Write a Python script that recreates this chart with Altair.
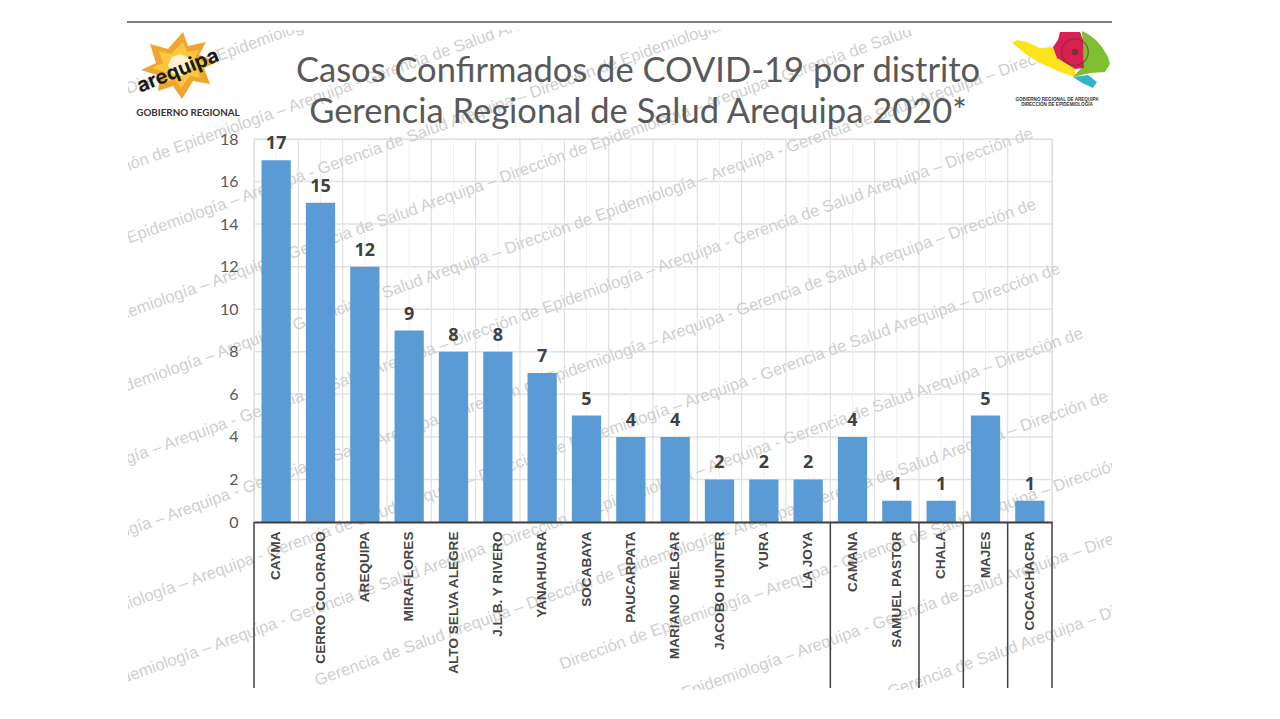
import altair as alt
import pandas as pd

distritos = ["CAYMA", "CERRO COLORADO", "AREQUIPA", "MIRAFLORES", "ALTO SELVA ALEGRE", "J.L.B. Y RIVERO",
             "YANAHUARA", "SOCABAYA", "PAUCARPATA", "MARIANO MELGAR", "JACOBO HUNTER", "YURA", "LA JOYA",
             "CAMANA", "SAMUEL PASTOR", "CHALA", "MAJES", "COCACHACRA"]
casos = [17, 15, 12, 9, 8, 8, 7, 5, 4, 4, 2, 2, 2, 4, 1, 1, 5, 1]
grupos_inicio = ["CAYMA", "CAMANA", "CHALA", "MAJES", "COCACHACRA"]
ticks_y = [0, 2, 4, 6, 8, 10, 12, 14, 16, 18]
titulo = ["Casos Confirmados de COVID-19 por distrito", "Gerencia Regional de Salud Arequipa 2020*"]

DIR = "Dirección de "
EPI = "Epidemiología – Arequipa - "
GER = "Gerencia de Salud Arequipa – "
FIN = "Dirección de"
# marca de agua: (intercepto de la línea, inicio en x, texto)
marcas = [
    (140, 128, DIR + "Epidemiología"),
    (217, 85, DIR + EPI + "Gerencia de Salud Arequipa"),
    (290, 129, EPI + GER + DIR + "Epidemiología"),
    (364, 99, EPI + GER + DIR + EPI + "Gerencia de Salud"),
    (437, 104, EPI + GER + DIR + EPI + GER + FIN),
    (510, 51, EPI + GER + DIR + EPI + GER + FIN),
    (582, 54, EPI + GER + DIR + EPI + GER + FIN),
    (655, 78, EPI + GER + DIR + EPI + GER + FIN),
    (728, 101, EPI + GER + DIR + EPI + GER + FIN),
    (800, 317, GER + DIR + EPI + GER + FIN),
    (872, 562, DIR + EPI + GER + FIN),
    (945, 684, EPI + GER + FIN),
    (1018, 890, GER + FIN),
]

OX, OY = 254, 139
W, H = 798, 383
SLOPE = 0.36
HALF_GAP = 7.54
x_scale = alt.Scale(domain=distritos, paddingInner=0.34, paddingOuter=0.17)
y_scale = alt.Scale(domain=[0, 18], nice=False)

df = pd.DataFrame({"distrito": distritos, "casos": casos})
one = pd.DataFrame({"k": [0]})
x_axis = alt.Axis(title=None, grid=False, ticks=False, domain=True, domainColor="#404040", domainWidth=2,
                  labelAngle=-90, labelFont="Liberation Sans", labelFontWeight="bold", labelFontSize=13.6,
                  labelColor="#454545", labelPadding=9, labelAlign="right", labelBaseline="middle",
                  labelOverlap=False, zindex=1)
y_axis = alt.Axis(title=None, grid=False, ticks=False, domain=False, values=ticks_y, labelFont="Lato",
                  labelFontSize=16, labelColor="#595959", labelPadding=16, zindex=1)


def ex(**kw):
    return alt.X("distrito:N", scale=x_scale, sort=distritos, axis=x_axis, **kw)


def ey(field="casos:Q"):
    return alt.Y(field, scale=y_scale, axis=y_axis)


layers = []

# cuadrícula
layers.append(alt.Chart(pd.DataFrame({"t": ticks_y})).mark_rule(color="#e2e2e2", strokeWidth=1.5).encode(
    y=ey("t:Q"), x=alt.value(0), x2=alt.value(W)))
layers.append(alt.Chart(df).mark_rule(color="#f0f0f0", strokeWidth=1).encode(
    x=ex(), y=alt.value(0), y2=alt.value(H)))
layers.append(alt.Chart(df).mark_rule(color="#e0e0e0", strokeWidth=1.2, xOffset=-HALF_GAP).encode(
    x=ex(bandPosition=0), y=alt.value(0), y2=alt.value(H)))
layers.append(alt.Chart(one).mark_rule(color="#e0e0e0", strokeWidth=1.2).encode(
    x=alt.value(W), y=alt.value(0), y2=alt.value(H)))

for c, s, texto in marcas:
    layers.append(alt.Chart(one).mark_text(
        text=texto, font="Liberation Sans", fontSize=16.55, color="#cfcfcf", align="left", baseline="alphabetic",
        angle=340.2).encode(x=alt.value(s - OX), y=alt.value(c - SLOPE * s - OY)))

# recorte de la lámina
for x0, x1, y0, y1 in [(0, 128, 0, 711), (1112, 1272, 0, 711), (0, 1272, 0, 30), (0, 1272, 690, 711)]:
    layers.append(alt.Chart(one).mark_rect(color="white").encode(
        x=alt.value(x0 - OX), x2=alt.value(x1 - OX), y=alt.value(y0 - OY), y2=alt.value(y1 - OY)))

# línea superior
layers.append(alt.Chart(one).mark_rule(color="#808080", strokeWidth=2).encode(
    x=alt.value(127 - OX), x2=alt.value(1112 - OX), y=alt.value(22 - OY)))

# barras y etiquetas
layers.append(alt.Chart(df).mark_bar(color="#5b9bd5").encode(x=ex(), y=ey()))
layers.append(alt.Chart(df).mark_text(font="Open Sans", fontWeight="bold", fontSize=18, color="#404040",
                                      baseline="bottom", dy=-7).encode(x=ex(), y=ey(), text="casos:Q"))

# separadores de grupos bajo el eje
layers.append(alt.Chart(pd.DataFrame({"distrito": grupos_inicio})).mark_rule(
    color="#404040", strokeWidth=1.5, xOffset=-HALF_GAP).encode(
    x=ex(bandPosition=0), y=alt.value(H), y2=alt.value(549)))
layers.append(alt.Chart(one).mark_rule(color="#404040", strokeWidth=1.5).encode(
    x=alt.value(W), y=alt.value(H), y2=alt.value(549)))


def poly(points, fill, opacity=1.0):
    d = "M" + " L".join(f"{px - OX},{py - OY}" for px, py in points) + " Z"
    return alt.Chart(one).mark_point(shape=d, filled=True, fill=fill, size=4, opacity=opacity).encode(
        x=alt.value(0), y=alt.value(0))


def nota(texto, px, py, size, color="#333333", weight="bold", font="Lato", angle=0):
    return alt.Chart(one).mark_text(text=texto, font=font, fontSize=size, color=color, fontWeight=weight,
                                    align="center", baseline="middle", angle=angle).encode(
        x=alt.value(px - OX), y=alt.value(py - OY))


# logo sol
sol_ext = [(183, 32), (188, 46), (206, 42), (199, 55), (217, 62), (204, 68), (210, 84), (193, 81), (182, 99),
           (173, 86), (158, 91), (160, 76), (141, 70), (156, 63), (150, 44), (168, 49)]
sol_med = [(183, 42), (187, 52), (199, 50), (195, 59), (207, 63), (197, 68), (201, 78), (190, 76), (181, 88),
           (175, 79), (164, 83), (165, 72), (152, 68), (163, 63), (159, 51), (171, 54)]
sol_int = [(180, 54), (188, 57), (192, 65), (188, 73), (180, 76), (172, 73), (168, 65), (172, 57)]
layers += [poly(sol_ext, "#f0a62e"), poly(sol_med, "#f9c83e"), poly(sol_int, "#fff3cf")]
layers.append(nota("arequipa", 178, 71, 20, color="#1a1a1a", font="Inter", weight="bold", angle=338))
layers.append(nota("GOBIERNO REGIONAL", 188, 113, 9.8))

# logo mapa
layers += [
    poly([(1012, 43), (1017, 40), (1027, 42), (1040, 48), (1055, 47), (1057, 58), (1075, 69), (1075, 77), (1060, 72),
          (1040, 63), (1027, 55)], "#fbe41e"),
    poly([(1082, 31), (1088, 34), (1096, 40), (1102, 47), (1108, 57), (1110, 64), (1105, 72), (1090, 73), (1073, 77),
          (1084, 65)], "#7fbf31"),
    poly([(1060, 32), (1080, 32), (1083, 40), (1084, 68), (1075, 69), (1057, 58), (1053, 47), (1058, 40)], "#dc1f52"),
    poly([(1073, 77), (1088, 75), (1097, 82), (1093, 88), (1082, 83)], "#35b4c8"),
]
layers.append(alt.Chart(one).mark_point(shape="circle", filled=False, color="#5a3a30", size=700, strokeWidth=1.2).encode(
    x=alt.value(1075 - OX), y=alt.value(52 - OY)))
layers.append(alt.Chart(one).mark_point(shape="circle", filled=True, color="#5a3a30", size=45, opacity=0.8).encode(
    x=alt.value(1075 - OX), y=alt.value(52 - OY)))
layers.append(nota("GOBIERNO REGIONAL DE AREQUIPA", 1057, 100, 4.6, font="Liberation Sans"))
layers.append(nota("DIRECCIÓN DE EPIDEMIOLOGÍA", 1057, 105, 4.6, font="Liberation Sans"))

chart = alt.layer(*layers).properties(
    width=W, height=H,
    padding={"left": OX - 8, "top": OY - 8, "right": 1272 - OX - W, "bottom": 711 - OY - H - 4},
    autosize=alt.AutoSizeParams(type="none"),
    title=alt.TitleParams(text=titulo, font="Lato", fontSize=34.5, fontWeight="normal", color="#595959",
                          anchor="middle", dx=-15, dy=130, offset=0, lineHeight=41, zindex=1),
).configure_view(stroke=None).configure(background="white")

chart.save("out.html", embed_options={"renderer": "svg", "actions": False})
